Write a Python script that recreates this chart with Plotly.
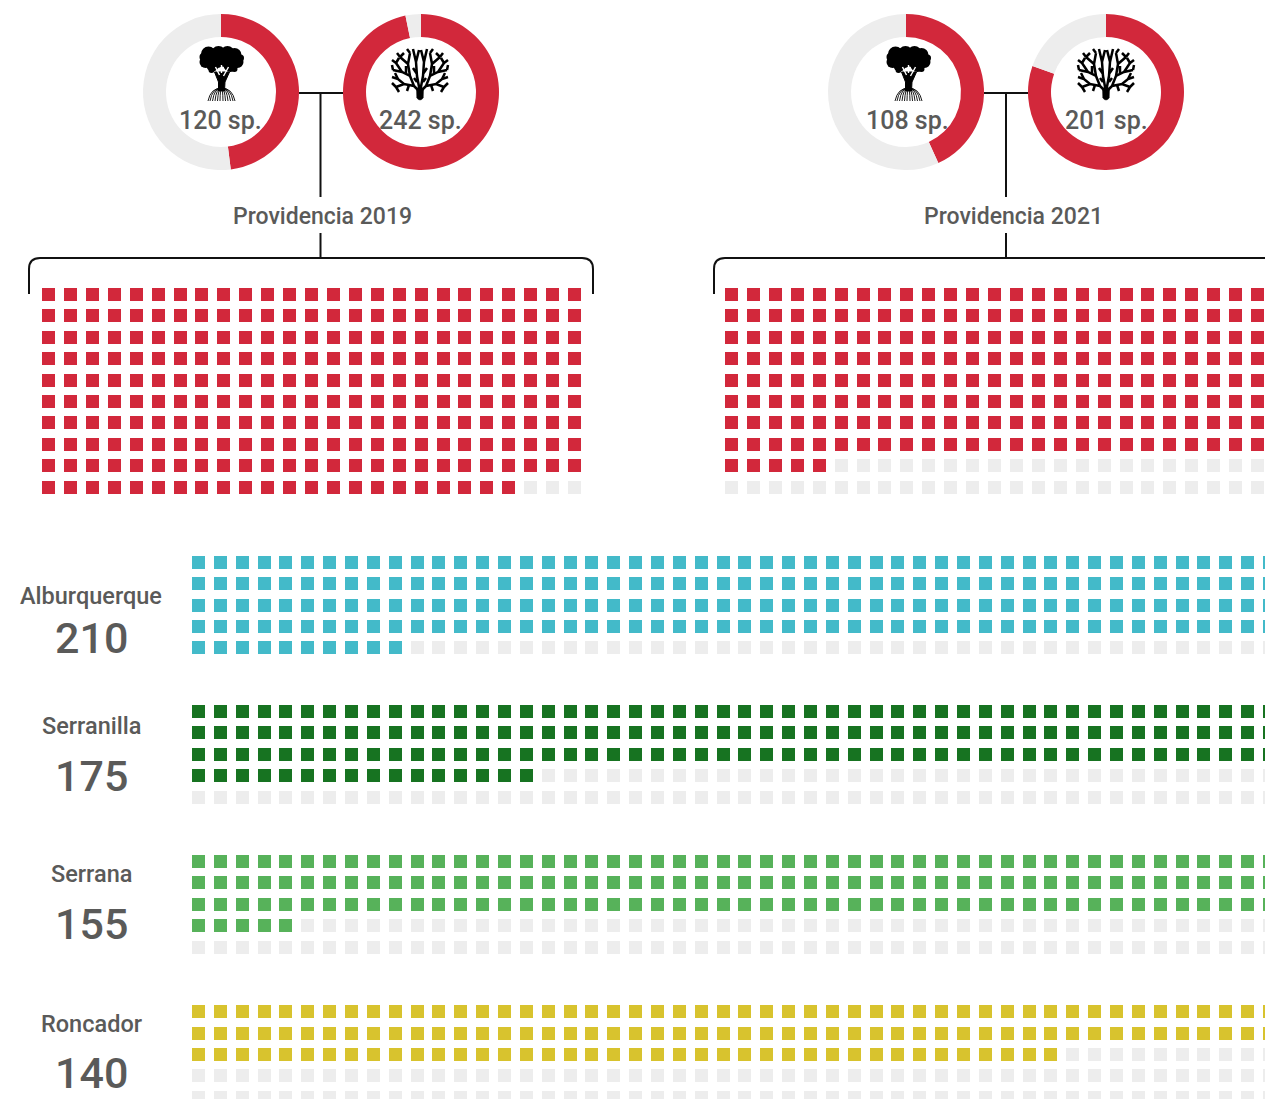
import plotly.graph_objects as go

# ---------- data ----------
donut_labels = ["120 sp.", "242 sp.", "108 sp.", "201 sp."]
donut_species = [120, 242, 108, 201]
donut_pool = [250, 250, 250, 250]

provid_titles = ["Providencia 2019", "Providencia 2021"]
provid_filled = [247, 205]
provid_cells = [250, 250]

region_names = ["Alburquerque", "Serranilla", "Serrana", "Roncador"]
region_totals = ["210", "175", "155", "140"]
region_filled = [210, 166, 155, 140]
region_cells = [250, 250, 250, 250]

# ---------- style and layout ----------
W, H = 1265, 1099
RED, GREY, INK, TXT = "#d2283b", "#ededed", "#111111", "#5a5a59"
region_colors = ["#43bac9", "#177321", "#57b25a", "#d8c32e"]
FONT = "Roboto"
SQ = 13
STEP_X_TOP = 21.92
STEP_X_REGION = 21.857
STEP_Y_TOP = 21.45
STEP_Y_REGION = 21.4
provid_origin = [(42, 287.7), (725, 287.7)]
region_origin = [(192, 555.8), (192, 705), (192, 855), (192, 1005.2)]
region_label_y = [(596, 638), (726, 776), (874, 924), (1024, 1073)]
donut_cx = [221, 421, 906, 1106]
icon_cx = [221.5, 420, 908.5, 1106]
label_cx = [220, 420, 907, 1106]
DONUT_CY, DONUT_R = 92, 78

fig = go.Figure()


def waffle(origin, filled, cells, per_row, step_x, step_y, color):
    ox, oy = origin
    xs, ys = [], []
    for i in range(cells):
        c, r = i % per_row, i // per_row
        xs.append(round(ox + step_x * c) + SQ / 2)
        ys.append(round(oy + step_y * r) + SQ / 2)
    marker = dict(symbol="square", size=SQ, line=dict(width=0))
    fig.add_trace(go.Scatter(x=xs[filled:], y=ys[filled:], mode="markers",
                             marker=dict(color=GREY, **marker), hoverinfo="skip", showlegend=False))
    fig.add_trace(go.Scatter(x=xs[:filled], y=ys[:filled], mode="markers",
                             marker=dict(color=color, **marker), hoverinfo="skip", showlegend=False))


for org, fil, cel in zip(provid_origin, provid_filled, provid_cells):
    waffle(org, fil, cel, 25, STEP_X_TOP, STEP_Y_TOP, RED)
for org, fil, cel, col in zip(region_origin, region_filled, region_cells, region_colors):
    waffle(org, fil, cel, 50, STEP_X_REGION, STEP_Y_REGION, col)

for cx, sp, pool in zip(donut_cx, donut_species, donut_pool):
    fig.add_trace(go.Pie(
        values=[sp, pool - sp], sort=False, direction="clockwise", rotation=0, hole=0.705,
        marker=dict(colors=[RED, GREY], line=dict(width=0)), textinfo="none", hoverinfo="skip",
        showlegend=False,
        domain=dict(x=[(cx - DONUT_R) / W, (cx + DONUT_R) / W],
                    y=[1 - (DONUT_CY + DONUT_R) / H, 1 - (DONUT_CY - DONUT_R) / H]),
    ))

shapes = []


def line_path(d, width=2, color=INK, fill=None):
    s = dict(type="path", path=d, xref="x", yref="y", layer="above",
             line=dict(color=color, width=width))
    if fill:
        s["fillcolor"] = fill
    shapes.append(s)


def bracket(x0, x1, stem, hline_a, hline_b):
    top, bot, r = 258, 294, 11
    line_path(f"M{x0},{bot} L{x0},{top + r} Q{x0},{top} {x0 + r},{top} "
              f"L{x1 - r},{top} Q{x1},{top} {x1},{top + r} L{x1},{bot}")
    line_path(f"M{stem},233 L{stem},{top}")
    line_path(f"M{stem},93 L{stem},197")
    line_path(f"M{hline_a},93 L{hline_b},93")


bracket(29, 593, 320.5, 299, 343)
bracket(714, 1285, 1006, 984, 1028)

# icons, in offsets from the icon centre
TREE_BLOBS = [(-13, 54, 7.5), (-3, 53.5, 7.5), (6, 53, 7), (13, 55, 7), (-16, 62, 6), (-9, 65, 6.5),
              (16, 62, 6), (9, 65, 7), (-18, 57, 4), (19, 58, 3.5), (-4, 62, 6), (3, 61, 6),
              (-10, 70, 3), (13, 69, 3)]
TREE_ROOTS = [(-13.5, 101), (-11.5, 101), (-9, 101), (-6.5, 101), (-4, 101), (-1.5, 101),
              (1.5, 101), (4, 101), (6.5, 101), (9, 101), (11.5, 101), (13.5, 101)]
CORAL_ARMS = [
    [(0, -4), (-6, -10), (-16, -12), (-24, -9)],
    [(-24, -9), (-28, -13)],
    [(-24, -9), (-21, -4)],
    [(-11, -11), (-13, -5)],
    [(-16, -12), (-22, -17), (-28, -19)],
    [(-22, -17), (-25, -23)],
    [(-6, -10), (-10, -20), (-18, -24), (-27, -26)],
    [(-27, -26), (-28, -31)],
    [(-18, -24), (-24, -33)],
    [(-24, -33), (-28, -36)],
    [(-24, -33), (-21, -38)],
    [(-14, -22), (-14, -30)],
    [(-10, -20), (-12, -32), (-20, -39)],
    [(-20, -39), (-23, -43)],
    [(-20, -39), (-16, -43)],
    [(-12, -32), (-10, -43)],
    [(-10, -43), (-13, -47)],
    [(0, -4), (-3, -20), (-4, -34), (-7, -47)],
    [(-4, -34), (-1, -46)],
    [(-3, -22), (-7, -28)],
    [(-3, -14), (-6, -18)],
]


def tree(cx):
    for dx, y, r in TREE_BLOBS:
        shapes.append(dict(type="circle", xref="x", yref="y", layer="above",
                           x0=cx + dx - r, x1=cx + dx + r, y0=y - r, y1=y + r,
                           fillcolor="black", line=dict(width=0)))
    line_path(f"M{cx - 7},72 L{cx + 8},72 L{cx + 3.5},82 L{cx + 3},91 L{cx - 3},91 L{cx - 3},82 Z",
              width=1, color="black", fill="black")
    line_path(f"M{cx - 6},67 L{cx - 2},75 M{cx + 7},67 L{cx + 2},76 M{cx},65 L{cx},73",
              width=1.4, color="white")
    for dx, y in TREE_ROOTS:
        mid = cx + dx * 0.8
        line_path(f"M{cx},88 Q{mid},88 {cx + dx},{y}", width=0.9, color="black")


def coral(cx, base=96):
    d = []
    for arm in CORAL_ARMS:
        for sign in (-1, 1):
            pts = [(cx + sign * dx, base + dy) for dx, dy in arm]
            d.append("M" + " L".join(f"{x},{y}" for x, y in pts))
    line_path(" ".join(d), width=2.5, color="black")
    line_path(f"M{cx - 3.5},{base - 8} L{cx + 3.5},{base - 8} L{cx + 3.2},{base + 2} "
              f"Q{cx},{base + 6} {cx - 3.2},{base + 2} Z", width=0.5, color="black", fill="black")


tree(icon_cx[0])
coral(icon_cx[1])
tree(icon_cx[2])
coral(icon_cx[3])

annotations = []


def label(x, y, text, size):
    annotations.append(dict(x=x, y=y, xref="x", yref="y", text=text, showarrow=False,
                            xanchor="center", yanchor="middle",
                            font=dict(family=FONT, size=size, color=TXT, weight=500)))


for x, t in zip(label_cx, donut_labels):
    label(x, 120, t, 25)
for x, t in zip([322.5, 1013.5], provid_titles):
    label(x, 216, t, 23)
for (y1, y2), name, total in zip(region_label_y, region_names, region_totals):
    label(91, y1, name, 23.5)
    label(91, y2, total, 43)

fig.update_layout(
    width=W, height=H, margin=dict(l=0, r=0, t=0, b=0), autosize=False,
    paper_bgcolor="white", plot_bgcolor="white", showlegend=False,
    xaxis=dict(range=[0, W], visible=False, fixedrange=True),
    yaxis=dict(range=[H, 0], visible=False, fixedrange=True),
    shapes=shapes, annotations=annotations,
)
fig.write_html("out.html", config={"displayModeBar": False},
               post_script="document.body.style.margin='0';document.documentElement.style.overflow='hidden';")
